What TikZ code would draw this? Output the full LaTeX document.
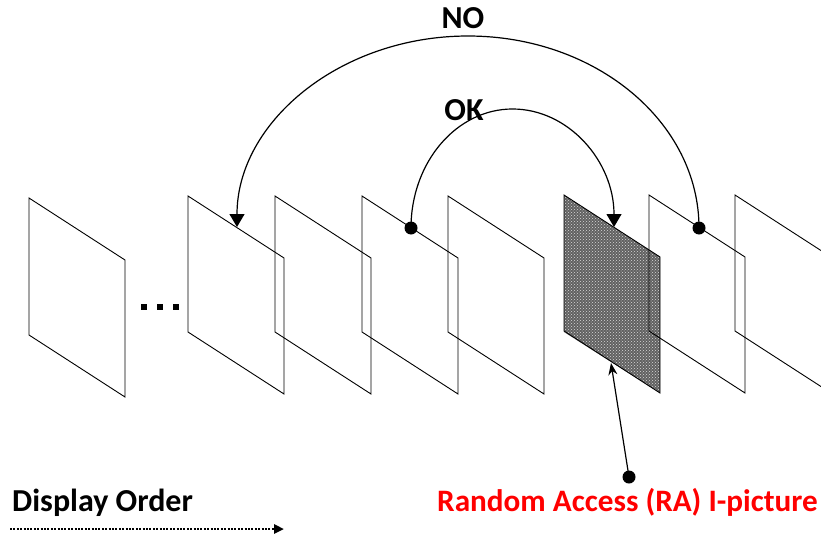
\documentclass[tikz,border=0pt]{standalone}
\usepackage{fontspec}
\setmainfont{Carlito}
\usetikzlibrary{arrows.meta,patterns,calc}
\begin{document}
\begin{tikzpicture}[x=1pt,y=-1pt,
  frame/.style={draw=black,line width=0.9pt,line join=miter},
  dotnode/.style={circle,fill=black,inner sep=0pt,minimum size=13pt},
  lbl/.style={font=\fontsize{32}{38}\selectfont\bfseries,inner sep=0pt},
  conn/.style={line width=1.2pt,-{Triangle[length=13pt,width=15pt]}},
]
\useasboundingbox (0,0) rectangle (821,535);
\clip (0,0) rectangle (821,535);
% shaded RA frame
\fill[black!62] (564,195) -- (660,257) -- (660,393) -- (564,332) -- cycle;
\fill[pattern=crosshatch dots, pattern color=black!15] (564,195) -- (660,257) -- (660,393) -- (564,332) -- cycle;
% frames
\draw[frame] (29,198) -- (125,260) -- (125,397) -- (29,335) -- cycle;
\foreach \x in {188,275,362,448}{
  \draw[frame] (\x,196) -- ++(96,62) -- ++(0,136) -- ++(-96,-62) -- cycle;
}
\foreach \x in {564,649,735}{
  \draw[frame] (\x,195) -- ++(96,62) -- ++(0,136) -- ++(-96,-62) -- cycle;
}
% ellipsis
\foreach \x in {141,157,173}{
  \fill (\x,304) rectangle ++(6,6);
}
% NO arc
\node[dotnode] (noDot) at (699,228) {};
\coordinate (noTop) at (468,36);
\coordinate (noTip) at (237,227);
\draw[conn] (noDot.center) .. controls (699,122) and (595.6,36) .. (noTop)
  .. controls (340.4,36) and (237,122) .. (noTip);
\node[lbl] (noLbl) at (463,18) {NO};
% OK arc
\node[dotnode] (okDot) at (411,228) {};
\coordinate (okTop) at (512.5,109);
\coordinate (okTip) at (614,227);
\draw[conn] (okDot.center) .. controls (411,162.3) and (456.5,109) .. (okTop)
  .. controls (568.5,109) and (614,161.3) .. (okTip);
\node[lbl] (okLbl) at (464,110) {OK};
% RA pointer
\node[dotnode] (raDot) at (629,477) {};
\coordinate (raTip) at (611,363);
\draw[line width=1.2pt,-{Stealth[length=12pt,width=9pt]}] (raDot.center) -- (raTip);
% bottom labels
\node[lbl,anchor=base west] (disp) at (12,511) {Display Order};
\node[lbl,anchor=base west,text=red,font=\fontsize{31.2}{37}\selectfont\bfseries] (ra) at (437,511) {Random Access (RA) I-picture};
\coordinate (dStart) at (10,529);
\coordinate (dEnd) at (284,529);
\draw[line width=2.6pt,dash pattern=on 2pt off 1.4pt,-{Triangle[length=10pt,width=9pt]}] (dStart) -- (dEnd);
\end{tikzpicture}
\end{document}
